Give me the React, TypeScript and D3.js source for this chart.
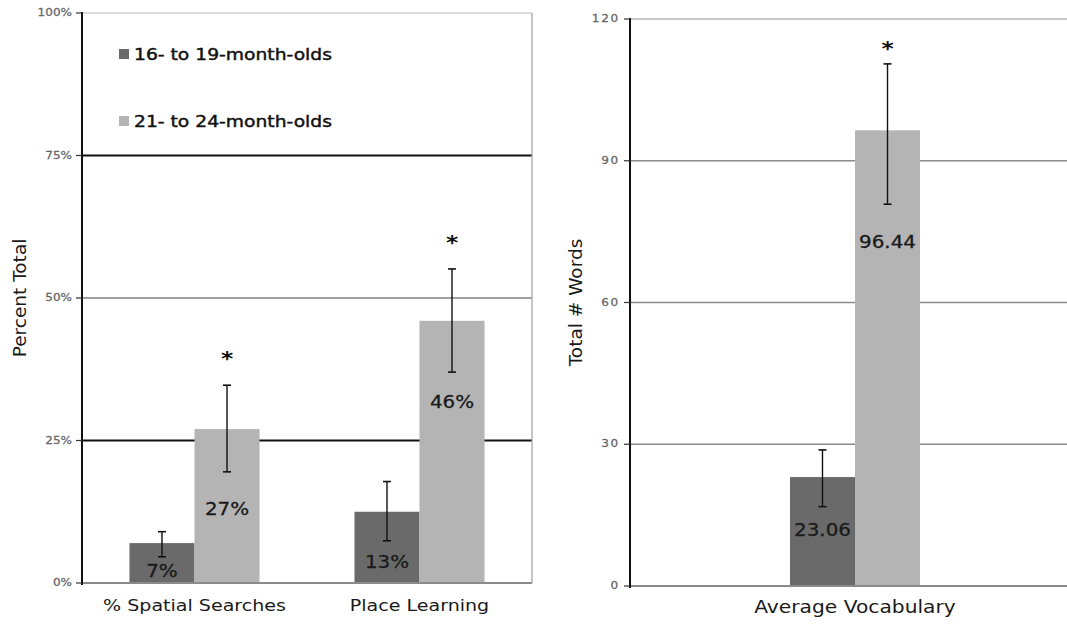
import React from "react";
import * as d3 from "d3";

// ---------- data ----------
const seriesNames = ["16- to 19-month-olds", "21- to 24-month-olds"];

const leftCategories = ["% Spatial Searches", "Place Learning"];
const youngerPct = [7, 12.5];
const olderPct = [27, 46];
const youngerPctErr = [[4.6, 9.0], [7.4, 17.8]];
const olderPctErr = [[19.5, 34.7], [37.0, 55.1]];
const youngerPctLabels = ["7%", "13%"];
const olderPctLabels = ["27%", "46%"];
const youngerPctLabelAt = [2.1, 3.7];
const olderPctLabelAt = [12.9, 31.7];
const youngerPctSig = [false, false];
const olderPctSig = [true, true];
const leftTicks = [0, 25, 50, 75, 100];
const leftTickLabels = ["0%", "25%", "50%", "75%", "100%"];

const rightCategories = ["Average Vocabulary"];
const youngerVocab = [23.06];
const olderVocab = [96.44];
const youngerVocabErr = [[16.8, 28.8]];
const olderVocabErr = [[80.8, 110.5]];
const youngerVocabLabels = ["23.06"];
const olderVocabLabels = ["96.44"];
const youngerVocabLabelAt = [11.8];
const olderVocabLabelAt = [72.8];
const youngerVocabSig = [false];
const olderVocabSig = [true];
const rightTicks = [0, 30, 60, 90, 120];
const rightTickLabels = ["0", "30", "60", "90", "120"];

// ---------- style ----------
const DARK = "#6a6a6a";
const LIGHT = "#b4b4b4";
const FONT = "'DejaVu Sans', Verdana, sans-serif";
const SX = 1.17;

function SText({ x, y, size, children, anchor = "middle", weight = "normal", fill = "#222", baseline = "auto", ls = 0, sw = 0 }: any) {
  return (
    <text
      transform={`translate(${x},${y}) scale(${SX},1)`}
      fontFamily={FONT}
      fontSize={size}
      fontWeight={weight}
      textAnchor={anchor}
      fill={fill}
      stroke={sw ? fill : "none"}
      strokeWidth={sw}
      dominantBaseline={baseline}
      letterSpacing={ls}
    >
      {children}
    </text>
  );
}

function Panel({ cfg }: any) {
  const { x0r, yr, domain, cats, series, ticks, tickLabels, gridStyles, yLabel, yLabelX, starGap, tickLs, rightBorder, xLabelY, xLabelSize } = cfg;
  const y = d3.scaleLinear().domain(domain).range(yr);
  const x0 = d3.scaleBand<string>().domain(cats).range(x0r).padding(0);
  const x1 = d3.scaleBand<string>().domain(seriesNames).range([0, x0.bandwidth()]).paddingInner(0).paddingOuter(cfg.outerPad);
  const left = x0r[0];
  const right = x0r[1];
  return (
    <g>
      {ticks.map((t: number, i: number) => {
        const gs = gridStyles[i];
        if (!gs) return null;
        return <line key={"g" + i} x1={left} x2={cfg.gridRight} y1={y(t)} y2={y(t)} stroke={gs.c} strokeWidth={gs.w} />;
      })}
      {rightBorder && <line x1={right} x2={right} y1={y(domain[1])} y2={y(0)} stroke="#a0a0a0" strokeWidth={1.2} />}
      {cats.map((c: string, ci: number) =>
        series.map((s: any, si: number) => {
          const bx = (x0(c) as number) + (x1(seriesNames[si]) as number);
          const bw = x1.bandwidth();
          return <rect key={c + si} x={bx} y={y(s.values[ci])} width={bw} height={y(0) - y(s.values[ci])} fill={s.color} />;
        })
      )}
      <line x1={left} x2={cfg.gridRight} y1={y(0)} y2={y(0)} stroke="#8a8a8a" strokeWidth={2} />
      {cats.map((c: string, ci: number) =>
        series.map((s: any, si: number) => {
          const cx = (x0(c) as number) + (x1(seriesNames[si]) as number) + x1.bandwidth() / 2;
          const [lo, hi] = s.err[ci];
          return (
            <g key={"e" + c + si}>
              <line x1={cx} x2={cx} y1={y(lo)} y2={y(hi)} stroke="#111" strokeWidth={1.4} />
              <line x1={cx - 4} x2={cx + 4} y1={y(lo)} y2={y(lo)} stroke="#111" strokeWidth={1.6} />
              <line x1={cx - 4} x2={cx + 4} y1={y(hi)} y2={y(hi)} stroke="#111" strokeWidth={1.6} />
              <SText x={cx} y={y(s.labelAt[ci])} size={17} baseline="central" fill="#1a1a1a" sw={0.3}>
                {s.labels[ci]}
              </SText>
              {s.sig[ci] && (
                <SText x={cx} y={y(hi) - starGap} size={20} weight="bold" baseline="central" fill="#111">
                  *
                </SText>
              )}
            </g>
          );
        })
      )}
      <line x1={left} x2={left} y1={y(domain[1]) - 1} y2={y(0) + 2} stroke="#111" strokeWidth={2} />
      {ticks.map((t: number, i: number) => (
        <g key={"t" + i}>
          <line x1={left - 6} x2={left} y1={y(t)} y2={y(t)} stroke="#333" strokeWidth={1.2} />
          <SText x={left - 10} y={y(t)} size={10.3} anchor="end" baseline="central" fill="#666" ls={tickLs} sw={0.25}>
            {tickLabels[i]}
          </SText>
        </g>
      ))}
      {cats.map((c: string) => (
        <SText key={"xl" + c} x={(x0(c) as number) + x0.bandwidth() / 2} y={xLabelY} size={xLabelSize} baseline="central" fill="#1a1a1a">
          {c}
        </SText>
      ))}
      <text
        transform={`translate(${yLabelX},${(yr[0] + yr[1]) / 2}) rotate(-90)`}
        fontFamily={FONT}
        fontSize={18.5}
        textAnchor="middle"
        dominantBaseline="central"
        fill="#1a1a1a"
      >
        {yLabel}
      </text>
    </g>
  );
}

export default function App() {
  const leftCfg = {
    x0r: [82, 532],
    yr: [583, 13],
    domain: [0, 100],
    cats: leftCategories,
    outerPad: 0.73,
    gridRight: 532,
    rightBorder: true,
    ticks: leftTicks,
    tickLabels: leftTickLabels,
    gridStyles: [null, { c: "#111", w: 2 }, { c: "#444", w: 1.2 }, { c: "#111", w: 2 }, { c: "#cfcfcf", w: 1.5 }],
    yLabel: "Percent Total",
    yLabelX: 19,
    starGap: 27,
    tickLs: 0,
    xLabelY: 605,
    xLabelSize: 16.3,
    series: [
      { color: DARK, values: youngerPct, err: youngerPctErr, labels: youngerPctLabels, labelAt: youngerPctLabelAt, sig: youngerPctSig },
      { color: LIGHT, values: olderPct, err: olderPctErr, labels: olderPctLabels, labelAt: olderPctLabelAt, sig: olderPctSig },
    ],
  };
  const rightCfg = {
    x0r: [630, 1080],
    yr: [586, 19],
    domain: [0, 120],
    cats: rightCategories,
    outerPad: 2.46,
    gridRight: 1067,
    rightBorder: false,
    ticks: rightTicks,
    tickLabels: rightTickLabels,
    gridStyles: [null, { c: "#8a8a8a", w: 1.6 }, { c: "#8a8a8a", w: 1.6 }, { c: "#8a8a8a", w: 1.6 }, { c: "#c8c8c8", w: 2 }],
    yLabel: "Total # Words",
    yLabelX: 575,
    starGap: 16,
    tickLs: 1.5,
    xLabelY: 607,
    xLabelSize: 17.3,
    series: [
      { color: DARK, values: youngerVocab, err: youngerVocabErr, labels: youngerVocabLabels, labelAt: youngerVocabLabelAt, sig: youngerVocabSig },
      { color: LIGHT, values: olderVocab, err: olderVocabErr, labels: olderVocabLabels, labelAt: olderVocabLabelAt, sig: olderVocabSig },
    ],
  };
  const legendColors = [DARK, LIGHT];
  const legendY = [54, 121];
  return (
    <>
      <style>{`body{margin:0;}`}</style>
      <svg width={1067} height={624} style={{ display: "block", background: "#fff" }}>
        <Panel cfg={leftCfg} />
        <Panel cfg={rightCfg} />
        {seriesNames.map((s, i) => (
          <g key={s}>
            <rect x={119} y={legendY[i] - 5} width={10} height={10} fill={legendColors[i]} />
            <SText x={134} y={legendY[i]} size={16} anchor="start" baseline="central" fill="#111" sw={0.45}>
              {s}
            </SText>
          </g>
        ))}
      </svg>
    </>
  );
}
